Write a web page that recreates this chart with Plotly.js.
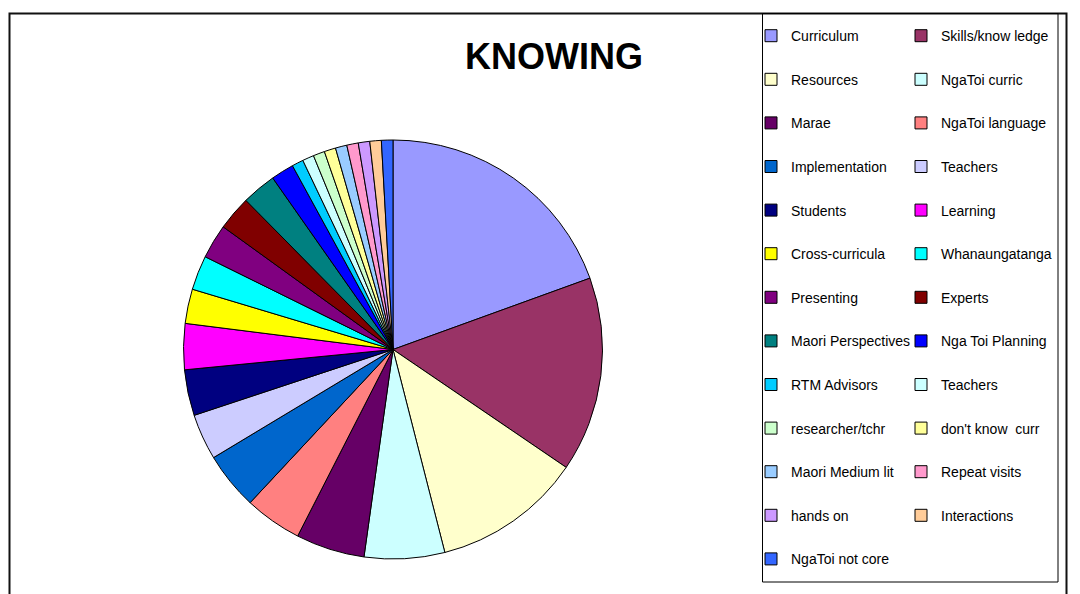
<!DOCTYPE html>
<html>
<head>
<meta charset="utf-8">
<script src="https://cdn.plot.ly/plotly-3.0.1.min.js"></script>
<style>
html,body{margin:0;padding:0;background:#ffffff;}
#chart{width:1080px;height:594px;}
</style>
</head>
<body>
<div id="chart"></div>
<script>
// ---- data ----
const categories = [
  "Curriculum", "Skills/know ledge", "Resources", "NgaToi curric", "Marae",
  "NgaToi language", "Implementation", "Teachers", "Students", "Learning",
  "Cross-curricula", "Whanaungatanga", "Presenting", "Experts", "Maori Perspectives",
  "Nga Toi Planning", "RTM Advisors", "Teachers", "researcher/tchr", "don't know  curr",
  "Maori Medium lit", "Repeat visits", "hands on", "Interactions", "NgaToi not core"
];
const counts = [22, 17, 13, 7, 6, 5, 5, 4, 4, 4, 3, 3, 3, 3, 3, 2, 1, 1, 1, 1, 1, 1, 1, 1, 1];
const colors = [
  "#9999FF", "#993366", "#FFFFCC", "#CCFFFF", "#660066",
  "#FF8080", "#0066CC", "#CCCCFF", "#000080", "#FF00FF",
  "#FFFF00", "#00FFFF", "#800080", "#800000", "#008080",
  "#0000FF", "#00CCFF", "#CCFFFF", "#CCFFCC", "#FFFF99",
  "#99CCFF", "#FF99CC", "#CC99FF", "#FFCC99", "#3366FF"
];
const chartTitle = "KNOWING";

// ---- helpers ----
const W = 1080, H = 594;
const FONT = "Liberation Sans, Arial, Helvetica, sans-serif";
const px = x => x / W;
const py = y => 1 - y / H;

// pie labels must be unique (two "Teachers" entries): pad repeats with a trailing space
const seen = {};
const labels = categories.map(c => {
  let l = c;
  while (seen[l]) l += " ";
  seen[l] = true;
  return l;
});

// main pie geometry (pixels)
const cx = 393, cy = 349.5, r = 209.5;
const mainDomain = {x: [px(cx - r), px(cx + r)], y: [py(cy + r), py(cy - r)]};
const rh = 190;
const hiddenDomain = {x: [px(cx - rh), px(cx + rh)], y: [py(cy + rh), py(cy - rh)]};

const line = {color: "#000000", width: 1};

// legend columns: column 1 = even indices, column 2 = odd indices
function pick(idx, legendId, group) {
  return {
    type: "pie",
    labels: idx.map(i => labels[i]),
    values: idx.map(i => counts[i]),
    marker: {colors: idx.map(i => colors[i]), line: line},
    sort: false,
    direction: "clockwise",
    textinfo: "none",
    hoverinfo: "skip",
    domain: hiddenDomain,
    legend: legendId,
    legendgroup: group,
    showlegend: true
  };
}
const col1 = [], col2 = [];
categories.forEach((c, i) => (i % 2 === 0 ? col1 : col2).push(i));

const traces = [
  pick(col1.slice(0, -1), "legend", ""),
  pick(col1.slice(-1), "legend", "c1end"),
  pick(col2.slice(0, -1), "legend2", ""),
  pick(col2.slice(-1), "legend2", "c2end"),
  {
    type: "pie",
    labels: labels,
    values: counts,
    marker: {colors: colors, line: line},
    sort: false,
    direction: "clockwise",
    rotation: 0,
    textinfo: "none",
    hoverinfo: "label+value+percent",
    domain: mainDomain,
    showlegend: false
  }
];

const rowStep = 43.6;
const legendFont = {family: FONT, size: 14, color: "#000000"};
const itemH = legendFont.size * 1.3 + 3;
const legendTop = 35.7 - 5 - itemH / 2;
const legendCommon = {
  xanchor: "left", yanchor: "top", y: py(legendTop),
  traceorder: "grouped", tracegroupgap: rowStep - itemH,
  font: legendFont, bgcolor: "rgba(0,0,0,0)", borderwidth: 0
};

const layout = {
  width: W, height: H,
  margin: {l: 0, r: 0, t: 0, b: 0},
  paper_bgcolor: "#ffffff",
  plot_bgcolor: "#ffffff",
  title: {
    text: "<b>" + chartTitle + "</b>",
    font: {family: FONT, size: 36, color: "#000000"},
    x: px(554), xanchor: "center", xref: "container",
    y: py(56.7), yanchor: "middle", yref: "container"
  },
  legend: Object.assign({x: px(751)}, legendCommon),
  legend2: Object.assign({x: px(901)}, legendCommon),
  shapes: [
    {type: "rect", xref: "paper", yref: "paper",
     x0: px(9.5), x1: px(1066.5), y0: -0.05, y1: py(13.5),
     line: {color: "#111111", width: 2}, fillcolor: "rgba(0,0,0,0)", layer: "below"},
    {type: "rect", xref: "paper", yref: "paper",
     x0: px(762.5), x1: px(1058), y0: py(582), y1: py(13.5),
     line: {color: "#000000", width: 1}, fillcolor: "rgba(0,0,0,0)", layer: "below"}
  ]
};

Plotly.newPlot("chart", traces, layout, {displayModeBar: false, staticPlot: true});
</script>
</body>
</html>
